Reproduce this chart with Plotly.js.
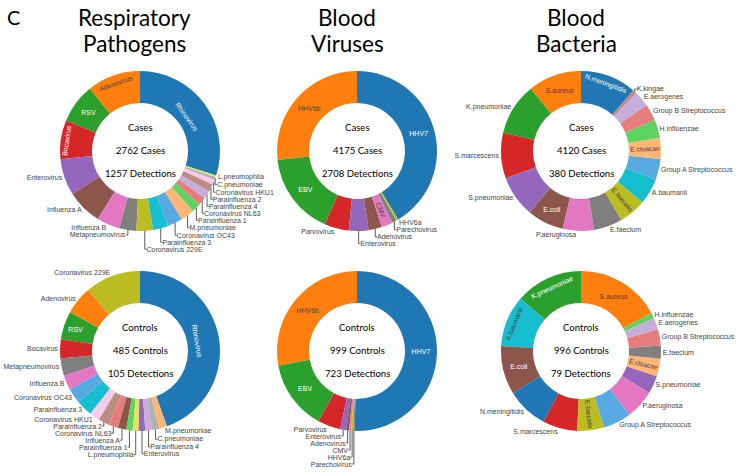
<!DOCTYPE html>
<html>
<head>
<meta charset="utf-8">
<script src="https://cdn.plot.ly/plotly-3.0.1.min.js"></script>
<style>html,body{margin:0;padding:0;background:#fff;}#chart{width:740px;height:476px;}</style>
</head>
<body>
<div id="chart"></div>
<script>
// ---------- data ----------
const respCasesLabels = ["Rhinovirus","Adenovirus","RSV","Bocavirus","Enterovirus","Influenza A","Influenza B","Metapneumovirus","Coronavirus 229E","Parainfluenza 3","Coronavirus OC43","M.pneumoniae","Parainfluenza 1","Coronavirus NL63","Parainfluenza 4","Parainfluenza 2","Coronavirus HKU1","C.pneumoniae","L.pneumophila"];
const respCasesValues = [377,136,100,99,93,90,59,43,42,39,38,35,23,21,20,19,13,7,4];

const respCtrlLabels = ["Rhinovirus","Coronavirus 229E","Adenovirus","RSV","Bocavirus","Metapneumovirus","Influenza B","Coronavirus OC43","Parainfluenza 3","Coronavirus HKU1","Parainfluenza 2","Coronavirus NL63","Influenza A","Parainfluenza 1","L.pneumophila","Enterovirus","Parainfluenza 4","C.pneumoniae","M.pneumoniae"];
const respCtrlValues = [44.4,11.2,5.7,5.7,3.8,3.5,3.0,3.0,3.3,2.1,2.2,1.9,1.7,1.3,1.2,1.3,1.3,1.5,1.6];

const virCasesLabels = ["HHV7","HHV6b","EBV","Parvovirus","Enterovirus","Adenovirus","CMV","Parechovirus","HHV6a"];
const virCasesValues = [1121,726,450,133,108,73,62,24,11];

const virCtrlLabels = ["HHV7","HHV6b","EBV","Parvovirus","Enterovirus","Adenovirus","CMV","HHV6a","Parechovirus"];
const virCtrlValues = [365,202,102,33,9,4,3,3,2];

const bacCasesLabels = ["N.meningitidis","S.aureus","K.pneumoniae","S.marcescens","S.pneumoniae","E.coli","P.aeruginosa","E.faecium","E.faecalis","A.baumanii","Group A Streptococcus","E.cloacae","H.influenzae","Group B Streptococcus","E.aerogenes","K.kingae"];
const bacCasesValues = [43,41,40,35,32,28,24,22,21,20,16,16,14,13,12,3];

const bacCtrlLabels = ["S.aureus","K.pneumoniae","A.baumanii","E.coli","N.meningitidis","S.marcescens","E.faecalis","Group A Streptococcus","P.aeruginosa","S.pneumoniae","E.cloacae","E.faecium","Group B Streptococcus","E.aerogenes","H.influenzae"];
const bacCtrlValues = [17.1,13.6,10.4,9.8,8.4,7.0,5.4,5.7,5.9,3.6,3.6,2.6,3.3,2.4,1.1];

const columnTitles = [["Respiratory","Pathogens"],["Blood","Viruses"],["Blood","Bacteria"]];
const centerTexts = [
  ["Cases","2762 Cases","1257 Detections"],
  ["Cases","4175 Cases","2708 Detections"],
  ["Cases","4120 Cases","380 Detections"],
  ["Controls","485 Controls","105 Detections"],
  ["Controls","999 Controls","723 Detections"],
  ["Controls","996 Controls","79 Detections"]
];

// ---------- styles ----------
const respColors = {"Rhinovirus":"#1f77b4","Adenovirus":"#ff7f0e","RSV":"#2ca02c","Bocavirus":"#d62728","Enterovirus":"#9467bd","Influenza A":"#8c564b","Influenza B":"#e377c2","Metapneumovirus":"#7f7f7f","Coronavirus 229E":"#bcbd22","Parainfluenza 3":"#17becf","Coronavirus OC43":"#57a9e2","M.pneumoniae":"#ffb574","Parainfluenza 1":"#5fd35f","Coronavirus NL63":"#e77c7c","Parainfluenza 4":"#c6aedc","Parainfluenza 2":"#bc8b81","Coronavirus HKU1":"#f4cbe8","C.pneumoniae":"#b2b2b2","L.pneumophila":"#e2e362"};
const virColors = {"HHV7":"#1f77b4","HHV6b":"#ff7f0e","EBV":"#2ca02c","Parvovirus":"#d62728","Enterovirus":"#9467bd","Adenovirus":"#8c564b","CMV":"#e377c2","Parechovirus":"#7f7f7f","HHV6a":"#bcbd22"};
const bacColors = {"N.meningitidis":"#1f77b4","S.aureus":"#ff7f0e","K.pneumoniae":"#2ca02c","S.marcescens":"#d62728","S.pneumoniae":"#9467bd","E.coli":"#8c564b","P.aeruginosa":"#e377c2","E.faecium":"#7f7f7f","E.faecalis":"#bcbd22","A.baumanii":"#17becf","Group A Streptococcus":"#57a9e2","E.cloacae":"#ffb574","H.influenzae":"#5fd35f","Group B Streptococcus":"#e77c7c","E.aerogenes":"#c6aedc","K.kingae":"#bc8b81"};

// per chart: labels forced inside (null = let Plotly decide), radial labels for very thin slices
const insideSets = [
  ["Rhinovirus","Adenovirus","RSV","Bocavirus"],
  null,
  ["N.meningitidis","S.aureus","E.coli","E.cloacae","E.faecalis"],
  ["Rhinovirus","RSV"],
  null,
  ["S.aureus","K.pneumoniae","A.baumanii","E.coli","E.cloacae","E.faecalis"]
];
const radialSets = [[], ["CMV"], [], [], [], []];

const W = 740, H = 476, R = 80, HOLE = 0.6;
const colX = [140, 357, 581];
const rowY = [151, 351];
const labelFont = 'Liberation Sans';
const labelSize = 7.0;

function dom(cx, cy) {
  return {x: [(cx - R) / W, (cx + R) / W], y: [1 - (cy + R) / H, 1 - (cy - R) / H]};
}
const annotations = [];
function pie(labels, values, cmap, k) {
  const col = k % 3, row = Math.floor(k / 3);
  const ins = insideSets[k], rad = radialSets[k];
  if (rad.length) {
    const total = values.reduce((a, b) => a + b, 0);
    let cum = 0;
    values.forEach((v, i) => {
      if (i === 0) return;
      const mid = -(cum + v / 2);
      cum += v;
      if (rad.indexOf(labels[i]) >= 0) {
        const th = mid / total * 2 * Math.PI;
        const rr = R * (1 + HOLE) / 2;
        const px = colX[col] + rr * Math.sin(th), py = rowY[row] - rr * Math.cos(th);
        let ang = Math.atan2(-Math.cos(th), Math.sin(th)) * 180 / Math.PI;
        if (ang > 90) ang -= 180; if (ang < -90) ang += 180;
        annotations.push({text: labels[i], x: px / W, y: 1 - py / H, xref: 'paper', yref: 'paper', showarrow: false, xanchor: 'center', yanchor: 'middle', textangle: ang, font: {family: labelFont, size: labelSize, color: '#444'}});
      }
    });
  }
  return {
    type: 'pie', labels: labels, values: values, sort: false,
    direction: 'counterclockwise', hole: HOLE,
    text: labels.map(l => rad.indexOf(l) >= 0 ? '' : l),
    textinfo: 'text',
    textposition: ins ? labels.map(l => ins.indexOf(l) >= 0 ? 'inside' : 'outside') : 'auto',
    textfont: {family: labelFont, size: labelSize},
    outsidetextfont: {family: labelFont, size: labelSize, color: '#444'},
    marker: {colors: labels.map(l => cmap[l])},
    domain: dom(colX[col], rowY[row]),
    showlegend: false, hoverinfo: 'label+value'
  };
}

const data = [
  pie(respCasesLabels, respCasesValues, respColors, 0),
  pie(virCasesLabels, virCasesValues, virColors, 1),
  pie(bacCasesLabels, bacCasesValues, bacColors, 2),
  pie(respCtrlLabels, respCtrlValues, respColors, 3),
  pie(virCtrlLabels, virCtrlValues, virColors, 4),
  pie(bacCtrlLabels, bacCtrlValues, bacColors, 5)
];

annotations.push({text: 'C', x: 13 / W, y: 1 - 17 / H, xref: 'paper', yref: 'paper', showarrow: false, xanchor: 'center', yanchor: 'middle', font: {family: 'Lato', size: 20, color: '#000'}});
const titleX = [134, 347, 576];
columnTitles.forEach((lines, i) => {
  lines.forEach((t, j) => {
    annotations.push({text: t, x: titleX[i] / W, y: 1 - (18 + 25 * j) / H, xref: 'paper', yref: 'paper', showarrow: false, xanchor: 'center', yanchor: 'middle', font: {family: 'Lato', size: 22.5, color: '#000'}});
  });
});
centerTexts.forEach((lines, k) => {
  const cx = colX[k % 3], cy = rowY[Math.floor(k / 3)];
  lines.forEach((t, j) => {
    annotations.push({text: t, x: cx / W, y: 1 - (cy - 0.5 + 23.3 * (j - 1)) / H, xref: 'paper', yref: 'paper', showarrow: false, xanchor: 'center', yanchor: 'middle', font: {family: 'Lato', size: 9.6, color: '#000'}});
  });
});

const layout = {
  width: W, height: H,
  margin: {l: 0, r: 0, t: 0, b: 0},
  paper_bgcolor: '#fff', plot_bgcolor: '#fff',
  showlegend: false,
  annotations: annotations
};
Plotly.newPlot('chart', data, layout, {displayModeBar: false, staticPlot: true}).then(gd => {
  // hide any stray pie text that lands in the title band, away from every donut
  const box = gd.getBoundingClientRect();
  gd.querySelectorAll('g.slicetext, g.slice text, .slicetext text').forEach(el => {
    const r = el.getBoundingClientRect();
    const cy = (r.top + r.bottom) / 2 - box.top;
    if (cy < 62) el.style.display = 'none';
  });
});
</script>
</body>
</html>
